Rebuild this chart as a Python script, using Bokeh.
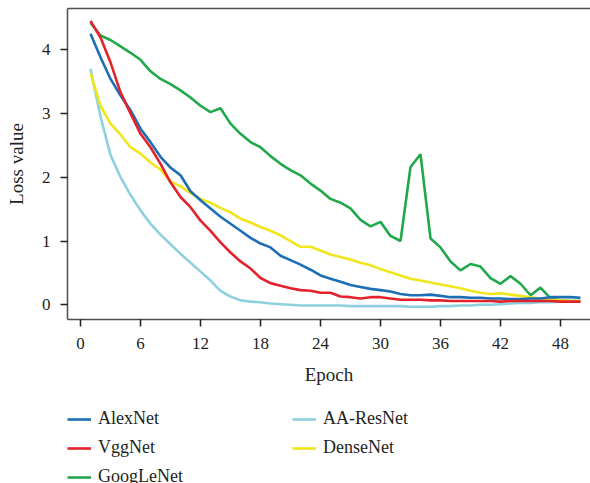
from bokeh.plotting import figure
from bokeh.layouts import column
from bokeh.models import Range1d, LinearAxis, FixedTicker, Legend, LegendItem
from bokeh.embed import file_html
from bokeh.resources import INLINE

# Training loss per epoch for each network
epochs = list(range(1, 51))

alexnet = [4.25, 3.88, 3.54, 3.28, 3.05, 2.76, 2.55, 2.32, 2.15, 2.03,
           1.78, 1.64, 1.51, 1.38, 1.27, 1.16, 1.05, 0.96, 0.90, 0.77,
           0.70, 0.63, 0.55, 0.46, 0.41, 0.36, 0.31, 0.28, 0.25, 0.23,
           0.21, 0.17, 0.15, 0.15, 0.16, 0.14, 0.12, 0.12, 0.11, 0.11,
           0.10, 0.10, 0.09, 0.09, 0.10, 0.10, 0.12, 0.12, 0.12, 0.11]

vggnet = [4.45, 4.19, 3.80, 3.33, 3.00, 2.68, 2.47, 2.21, 1.92, 1.69,
          1.53, 1.32, 1.16, 0.98, 0.82, 0.68, 0.57, 0.42, 0.34, 0.30,
          0.26, 0.23, 0.22, 0.19, 0.19, 0.13, 0.12, 0.10, 0.12, 0.12,
          0.10, 0.08, 0.08, 0.08, 0.07, 0.07, 0.06, 0.06, 0.06, 0.06,
          0.06, 0.05, 0.06, 0.06, 0.06, 0.06, 0.06, 0.05, 0.05, 0.05]

googlenet = [4.42, 4.22, 4.15, 4.05, 3.95, 3.84, 3.66, 3.54, 3.46, 3.36,
             3.25, 3.12, 3.02, 3.08, 2.84, 2.68, 2.55, 2.47, 2.33, 2.21,
             2.11, 2.03, 1.90, 1.79, 1.66, 1.60, 1.51, 1.33, 1.23, 1.30,
             1.08, 1.00, 2.16, 2.36, 1.04, 0.90, 0.68, 0.54, 0.64, 0.60,
             0.42, 0.33, 0.45, 0.33, 0.15, 0.27, 0.10, 0.07, 0.06, 0.06]

aa_resnet = [3.70, 2.95, 2.35, 2.00, 1.72, 1.48, 1.27, 1.10, 0.95, 0.80,
             0.66, 0.52, 0.38, 0.22, 0.13, 0.07, 0.05, 0.04, 0.02, 0.01,
             0.00, -0.01, -0.01, -0.01, -0.01, -0.01, -0.02, -0.02, -0.02, -0.02,
             -0.02, -0.02, -0.03, -0.03, -0.03, -0.02, -0.02, -0.01, -0.01, 0.00,
             0.00, 0.01, 0.02, 0.03, 0.03, 0.04, 0.04, 0.05, 0.05, 0.05]

densenet = [3.63, 3.12, 2.84, 2.67, 2.47, 2.37, 2.23, 2.12, 1.93, 1.86,
            1.75, 1.66, 1.60, 1.52, 1.45, 1.35, 1.29, 1.22, 1.16, 1.09,
            1.00, 0.91, 0.91, 0.85, 0.79, 0.75, 0.71, 0.66, 0.62, 0.56,
            0.51, 0.46, 0.41, 0.38, 0.35, 0.32, 0.29, 0.26, 0.22, 0.19,
            0.17, 0.18, 0.16, 0.14, 0.12, 0.10, 0.08, 0.07, 0.06, 0.06]

x_ticks = [0, 6, 12, 18, 24, 30, 36, 42, 48]
y_ticks = [0, 1, 2, 3, 4]

names = ["AlexNet", "VggNet", "GoogLeNet", "AA-ResNet", "DenseNet"]
colors = ["#1c6fb5", "#e3222b", "#21a84a", "#8dd0df", "#f1e51b"]

SERIF = "Liberation Serif"
TEXT = "#231f20"
AXIS = "#4d4d4d"
W = 2.6

# ---- main chart -------------------------------------------------------
p = figure(width=590, height=392, output_backend="svg", toolbar_location=None,
           x_range=Range1d(-1.3, 51.0), y_range=Range1d(-0.23, 4.644),
           min_border_left=67, min_border_right=0, min_border_top=8,
           min_border_bottom=73)
p.outline_line_color = None
p.grid.visible = False

for ax in (p.xaxis[0], p.yaxis[0]):
    ax.axis_line_color = AXIS
    ax.axis_line_width = 1.5
    ax.major_tick_line_color = TEXT
    ax.major_tick_line_width = 1.5
    ax.major_tick_in = 0
    ax.major_tick_out = 7
    ax.minor_tick_line_color = None
    ax.major_label_text_font = SERIF
    ax.major_label_text_font_size = "17px"
    ax.major_label_text_color = TEXT
    ax.axis_label_text_font = SERIF
    ax.axis_label_text_font_size = "19px"
    ax.axis_label_text_font_style = "normal"
    ax.axis_label_text_color = TEXT

p.xaxis[0].ticker = FixedTicker(ticks=x_ticks)
p.yaxis[0].ticker = FixedTicker(ticks=y_ticks)
p.xaxis[0].axis_label = "Epoch"
p.yaxis[0].axis_label = "Loss value"
p.xaxis[0].major_label_standoff = 11
p.yaxis[0].major_label_standoff = 10
p.xaxis[0].axis_label_standoff = 12
p.yaxis[0].axis_label_standoff = 12

# top border of the plotting frame
top = LinearAxis(ticker=FixedTicker(ticks=[]), axis_line_color=AXIS,
                 axis_line_width=1.5, major_tick_line_color=None,
                 minor_tick_line_color=None, major_label_standoff=0,
                 major_label_text_font_size="0px")
p.add_layout(top, "above")

series = {"AlexNet": alexnet, "VggNet": vggnet, "GoogLeNet": googlenet,
          "AA-ResNet": aa_resnet, "DenseNet": densenet}
color_of = dict(zip(names, colors))

# drawing order: GoogLeNet at the back, VggNet on top
for name in ["GoogLeNet", "AA-ResNet", "DenseNet", "AlexNet", "VggNet"]:
    p.line(epochs, series[name], line_color=color_of[name], line_width=W)

# ---- legend strip underneath -------------------------------------------
lf = figure(width=590, height=91, output_backend="svg", toolbar_location=None,
            x_axis_location=None, y_axis_location=None,
            min_border=0, x_range=Range1d(0, 1), y_range=Range1d(0, 1))
lf.outline_line_color = None
lf.grid.visible = False

nan = float("nan")
items = []
for name in names:
    # placeholder renderer that only supplies the legend swatch style
    r = lf.line([nan], [nan], line_color=color_of[name], line_width=W)
    items.append(LegendItem(label=name, renderers=[r]))

legend = Legend(items=items, orientation="vertical", nrows=3, location=(0, -4),
                padding=0, margin=0, spacing=8, glyph_width=24,
                glyph_height=14, label_height=14, label_width=186,
                label_standoff=7, label_text_font=SERIF,
                label_text_font_size="18px", label_text_color=TEXT,
                border_line_color=None, background_fill_alpha=0)
lf.add_layout(legend, "center")

layout = column(p, lf, spacing=0)
open("out.html", "w").write(file_html(layout, INLINE))
